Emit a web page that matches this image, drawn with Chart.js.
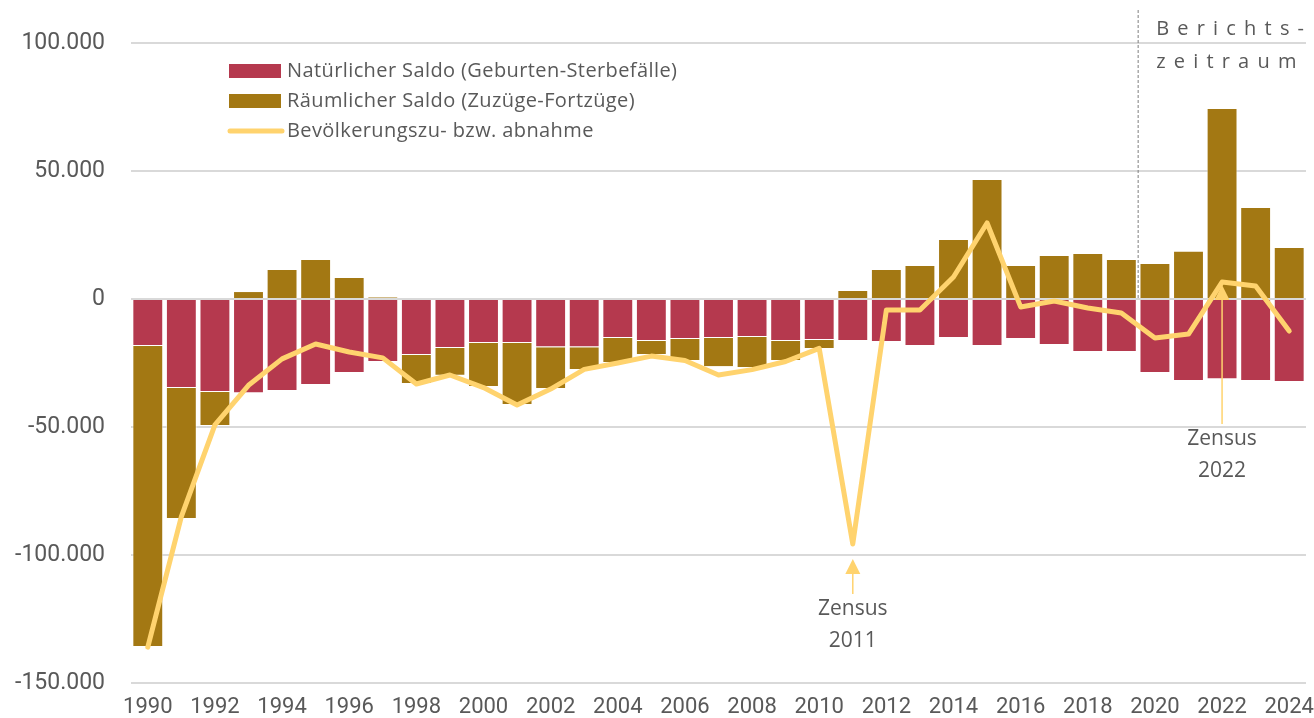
<!DOCTYPE html>
<html>
<head>
<meta charset="utf-8">
<script src="https://cdn.jsdelivr.net/npm/chart.js@4"></script>
<style>
  html, body { margin: 0; padding: 0; background: #fff; }
  #wrap { width: 1314px; height: 718px; }
</style>
</head>
<body>
<div id="wrap"><canvas id="popChart"></canvas></div>
<script>
const years = ["1990","1991","1992","1993","1994","1995","1996","1997","1998","1999",
  "2000","2001","2002","2003","2004","2005","2006","2007","2008","2009",
  "2010","2011","2012","2013","2014","2015","2016","2017","2018","2019",
  "2020","2021","2022","2023","2024"];

const natuerlich = [-18400,-34800,-36300,-36800,-35900,-33600,-28900,-24600,-21900,-19100,
  -17200,-17200,-18800,-18800,-15200,-16400,-15600,-15200,-14800,-16400,
  -16000,-16400,-16800,-18400,-15200,-18400,-15600,-18000,-20700,-20700,
  -28900,-32000,-31300,-32000,-32400];

const raeumlich = [-117500,-51100,-13300,3100,11700,15600,8600,800,-11300,-10900,
  -17200,-24200,-16400,-8900,-9800,-5500,-8600,-11400,-12200,-7800,
  -3500,3500,11700,13300,23400,46900,13300,17200,18000,15600,
  14100,18800,74600,35900,20300];

const bevoelkerung = [-136000,-85000,-49200,-33700,-23400,-17600,-20700,-23000,-33200,-29700,
  -34600,-41400,-35200,-27500,-25000,-22300,-24000,-29700,-27600,-24400,
  -19300,-95700,-4300,-4300,8600,29700,-3100,-800,-3500,-5500,
  -15200,-13700,6600,5100,-12500];

const yTicks = [100000, 50000, 0, -50000, -100000, -150000];

const zensusNotes = [
  { year: "2011", text: ["Zensus", "2011"], gap: 15, stemTo: null },
  { year: "2022", text: ["Zensus", "2022"], gap: 3, stemTo: 424 }
];

const berichtStart = "2020";

const red = "#B5394E";
const gold = "#A37813";
const yellow = "#FFD36E";
const grey = "#595959";

function fmt(v) {
    return v.toLocaleString("de-DE");
}

// legend, annotations and the "Berichtszeitraum" marker
const extras = {
    id: "extras",
    afterDatasetsDraw(chart) {
        const ctx = chart.ctx;
        const x = chart.scales.x;
        const y = chart.scales.y;

        // dashed separator
        const bi = years.indexOf(berichtStart);
        const sepX = (x.getPixelForValue(bi) + x.getPixelForValue(bi - 1)) / 2;
        ctx.save();
        ctx.strokeStyle = "#7f7f7f";
        ctx.lineWidth = 1;
        ctx.setLineDash([3, 2]);
        ctx.beginPath();
        ctx.moveTo(sepX, 10);
        ctx.lineTo(sepX, y.getPixelForValue(0));
        ctx.stroke();
        ctx.restore();

        ctx.save();
        ctx.fillStyle = grey;
        ctx.font = "20px 'Open Sans'";
        ctx.textBaseline = "middle";
        ctx.textAlign = "left";
        const spaced = (s, sx, sy, gap) => {
            let cx = sx;
            for (const ch of s) {
                ctx.fillText(ch, cx, sy);
                cx += ctx.measureText(ch).width + gap;
            }
        };
        spaced("Berichts-", sepX + 18, 29, 8.2);
        spaced("zeitraum", sepX + 18, 62, 8.2);
        ctx.restore();

        // Zensus arrows
        zensusNotes.forEach(n => {
            const i = years.indexOf(n.year);
            const px = x.getPixelForValue(i);
            const tipY = y.getPixelForValue(bevoelkerung[i]) + n.gap;
            ctx.save();
            ctx.fillStyle = yellow;
            ctx.strokeStyle = yellow;
            ctx.lineWidth = 1.5;
            ctx.beginPath();
            ctx.moveTo(px, tipY);
            ctx.lineTo(px - 7.5, tipY + 15);
            ctx.lineTo(px + 7.5, tipY + 15);
            ctx.closePath();
            ctx.fill();
            const endY = n.stemTo || tipY + 35;
            ctx.beginPath();
            ctx.moveTo(px, tipY + 14);
            ctx.lineTo(px, endY);
            ctx.stroke();
            ctx.fillStyle = grey;
            ctx.font = "21px 'Open Sans'";
            ctx.textAlign = "center";
            ctx.textBaseline = "middle";
            ctx.fillText(n.text[0], px, endY + 15);
            ctx.fillText(n.text[1], px, endY + 47);
            ctx.restore();
        });

        // legend
        ctx.save();
        ctx.font = "20px 'Open Sans'";
        ctx.letterSpacing = "0.4px";
        ctx.textBaseline = "middle";
        ctx.textAlign = "left";
        chart.data.datasets.forEach((ds, k) => {
            const ly = 71 + k * 30;
            if (ds.type === "line") {
                ctx.strokeStyle = ds.borderColor;
                ctx.lineWidth = 5;
                ctx.lineCap = "round";
                ctx.beginPath();
                ctx.moveTo(230, ly);
                ctx.lineTo(282, ly);
                ctx.stroke();
            } else {
                ctx.fillStyle = ds.backgroundColor;
                ctx.fillRect(229, ly - 7, 52, 14);
            }
            ctx.fillStyle = grey;
            ctx.fillText(ds.label, 287, ly);
        });
        ctx.restore();
    }
};

const ctx = document.getElementById("popChart").getContext("2d");
new Chart(ctx, {
    type: "bar",
    data: {
        labels: years,
        datasets: [
            {
                label: "Natürlicher Saldo (Geburten-Sterbefälle)",
                data: natuerlich,
                backgroundColor: red,
                borderColor: "rgba(255,255,255,0.55)",
                borderWidth: 1,
                order: 1
            }, {
                label: "Räumlicher Saldo (Zuzüge-Fortzüge)",
                data: raeumlich,
                backgroundColor: gold,
                borderColor: "rgba(255,255,255,0.55)",
                borderWidth: 1,
                order: 2
            }, {
                type: "line",
                label: "Bevölkerungszu- bzw. abnahme",
                data: bevoelkerung,
                borderColor: yellow,
                backgroundColor: yellow,
                borderWidth: 5,
                borderCapStyle: "round",
                borderJoinStyle: "round",
                pointRadius: 0,
                tension: 0,
                stack: "total",
                order: 0
            }
        ]
    },
    options: {
        responsive: true,
        maintainAspectRatio: false,
        animation: false,
        datasets: { bar: { categoryPercentage: 0.92, barPercentage: 1 } },
        layout: { padding: { left: 8, right: 8, top: 43, bottom: 0 } },
        plugins: {
            legend: { display: false },
            tooltip: { enabled: false }
        },
        scales: {
            x: {
                stacked: true,
                grid: { display: false, drawTicks: false },
                border: { display: false },
                afterFit: s => { s.height = 35; s.paddingLeft = 0; s.paddingRight = 0; },
                ticks: {
                    autoSkip: false,
                    maxRotation: 0,
                    color: grey,
                    font: { family: "Roboto", size: 22 },
                    padding: 11,
                    callback: (v, i) => (i % 2 === 0 ? years[i] : "")
                }
            },
            y: {
                stacked: true,
                min: -150000,
                max: 100000,
                afterBuildTicks: axis => { axis.ticks = yTicks.map(v => ({ value: v })); },
                afterFit: s => { s.width = 123; s.paddingTop = 0; s.paddingBottom = 0; },
                grid: { color: "#d9d9d9", lineWidth: 2, drawTicks: false },
                border: { display: false },
                ticks: {
                    color: grey,
                    font: { family: "Roboto", size: 23 },
                    padding: 26,
                    callback: v => fmt(v)
                }
            }
        }
    },
    plugins: [extras]
});
</script>
</body>
</html>
